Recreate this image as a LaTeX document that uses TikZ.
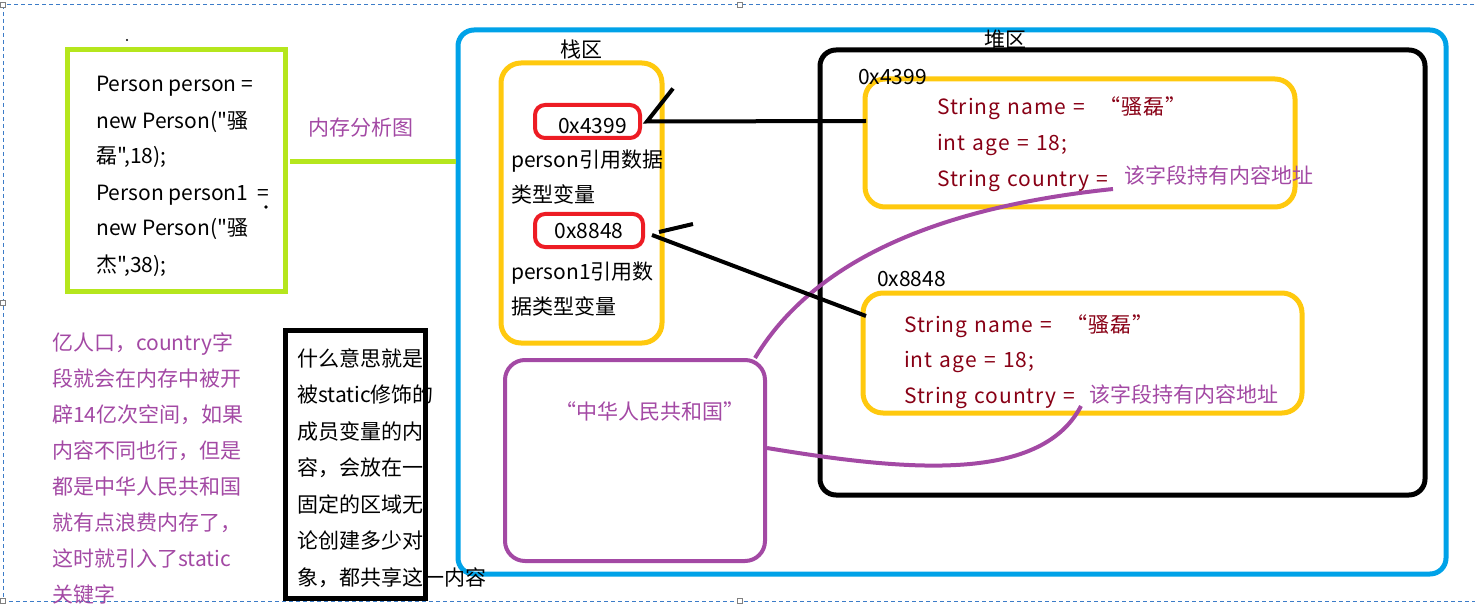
\documentclass[tikz,border=0pt]{standalone}
\usepackage{fontspec}
\newfontfamily\ui{Noto Sans CJK SC}
\newfontfamily\uiwide{Noto Sans CJK SC}[LetterSpace=4.5,WordSpace=1.3]
\usepackage{tikz}
\usetikzlibrary{positioning}
\definecolor{pgreen}{HTML}{B5E61D}
\definecolor{pblue}{HTML}{00A2E8}
\definecolor{pyellow}{HTML}{FFC90E}
\definecolor{pred}{HTML}{ED1C24}
\definecolor{ppurple}{HTML}{A349A4}
\definecolor{pdarkred}{HTML}{880015}
\definecolor{pdash}{HTML}{3C7CC8}

\begin{document}
\begin{tikzpicture}[x=1pt,y=-1pt,font=\ui\fontsize{21}{36}\selectfont,
    region/.style={draw,line width=5pt,inner sep=0pt},
    ybox/.style={region,draw=pyellow,rounded corners=20pt},
    addr/.style={draw=pred,line width=4pt,rounded corners=10pt,minimum height=33pt,inner sep=0pt},
    txt/.style={inner sep=0pt,anchor=base west,align=left},
    fields/.style={txt,pdarkred,font=\uiwide\fontsize{21}{#1}\selectfont},
    link/.style={line width=4pt,black},
    plink/.style={line width=4pt,ppurple}]
    \useasboundingbox (0,0) rectangle (1475,604);
    % selection frame
    \draw[pdash,line width=1pt,dash pattern=on 4pt off 3pt] (3,5) rectangle (1490,601);
    \foreach \x/\y in {3/5,740/5,3/303,3/601,740/601}
      \draw[gray,fill=white,line width=0.8pt] (\x-2.5,\y-2.5) rectangle ++(5,5);
    \fill (127,40) circle (1.2);
    \fill (266,207) circle (1.8);

    % boxes
    \node[region,draw=pgreen,minimum width=218pt,minimum height=241.5pt] (code) at (176,170.25) {};
    \node[region,draw=pblue,rounded corners=16pt,minimum width=988pt,minimum height=544pt] (mem) at (952,302) {};
    \node[region,rounded corners=16pt,minimum width=605pt,minimum height=445pt] (heap) at (1122.5,272.5) {};
    \node[ybox,minimum width=161pt,minimum height=280pt] (stack) at (581.5,203) {};
    \node[ybox,minimum width=430pt,minimum height=128pt] (objA) at (1080,143) {};
    \node[ybox,minimum width=439pt,minimum height=120pt] (objB) at (1082.5,353) {};
    \node[region,draw=ppurple,line width=4pt,rounded corners=20pt,minimum width=260pt,minimum height=201pt] (china) at (635,460.5) {};
    \node[region,minimum width=140pt,minimum height=268pt] (static) at (355,464) {};
    \node[addr,minimum width=105pt] (addrA) at (587.5,121.5) {\hspace*{10pt}\raisebox{-12pt}[0pt][0pt]{0x4399}};
    \node[addr,minimum width=108pt] (addrB) at (589,230.5) {\raisebox{-8pt}[0pt][0pt]{0x8848}};

    \coordinate (g) at (290,161.5);
    \draw[pgreen,line width=5pt] (g) -- (g -| mem.west);

    % purple connectors
    \coordinate (cA) at (1113,189);
    \coordinate (cB) at (1081,406);
    \draw[plink] (cA) .. controls (960,205) and (820,250) .. ([xshift=-12pt]china.north east);
    \draw[plink] ([yshift=12.5pt]china.east) .. controls (900,470) and (1040,485) .. (cB);

    % references
    \coordinate (pA) at (866,121);
    \coordinate (pB) at (866,316);
    \draw[link] (pA) -- ([xshift=5pt]addrA.east) -- ++(26,-33);
    \draw[link] (pB) -- ([xshift=7pt,yshift=-4.5pt]addrB.east);
    \draw[link] ([xshift=14pt,yshift=-1.5pt]addrB.east) -- ++(34,-8);

    % texts (base = last line)
    \node[txt] (codetxt) at (96,272) {Person person =\\new Person("骚\\磊",18);\\Person person1~ =\\new Person("骚\\杰",38);};
    \node[txt,ppurple] (title) at (308,136) {内存分析图};
    \node[inner sep=0pt,above=1pt of stack] (stacklbl) {栈区};
    \node[inner sep=0pt,anchor=base] (heaplbl) at (1005,48) {堆区};
    \node[txt,font=\ui\fontsize{21}{34.5}\selectfont] (refA) at (511,202.5) {person引用数据\\类型变量};
    \node[txt,font=\ui\fontsize{21}{35}\selectfont] (refB) at (511,314) {person1引用数\\据类型变量};
    \node[txt] (lblA) at (858,85) {0x4399};
    \node[txt] (lblB) at (877,286) {0x8848};
    \node[fields=36] (fieldsA) at (937,187) {String name =\ \ “骚磊”\\int age = 18;\\String country =};
    \node[fields=35.5] (fieldsB) at (904,403) {String name =\ \ “骚磊”\\int age = 18;\\String country =};
    \node[txt,ppurple] (noteA) at (1124,184) {该字段持有内容地址};
    \node[txt,ppurple] (noteB) at (1089,402) {该字段持有内容地址};
    \node[inner sep=0pt,anchor=base,ppurple] (chinatxt) at (650,419) {“中华人民共和国”};
    \node[txt,ppurple] (waste) at (52,602) {亿人口，country字\\段就会在内存中被开\\辟14亿次空间，如果\\内容不同也行，但是\\都是中华人民共和国\\就有点浪费内存了，\\这时就引入了static\\关键字};
    \node[txt,font=\ui\fontsize{21}{36.5}\selectfont] (stattxt) at (297,585) {什么意思就是\\被static修饰的\\成员变量的内\\容，会放在一\\固定的区域无\\论创建多少对\\象，都共享这一内容};
\end{tikzpicture}
\end{document}
